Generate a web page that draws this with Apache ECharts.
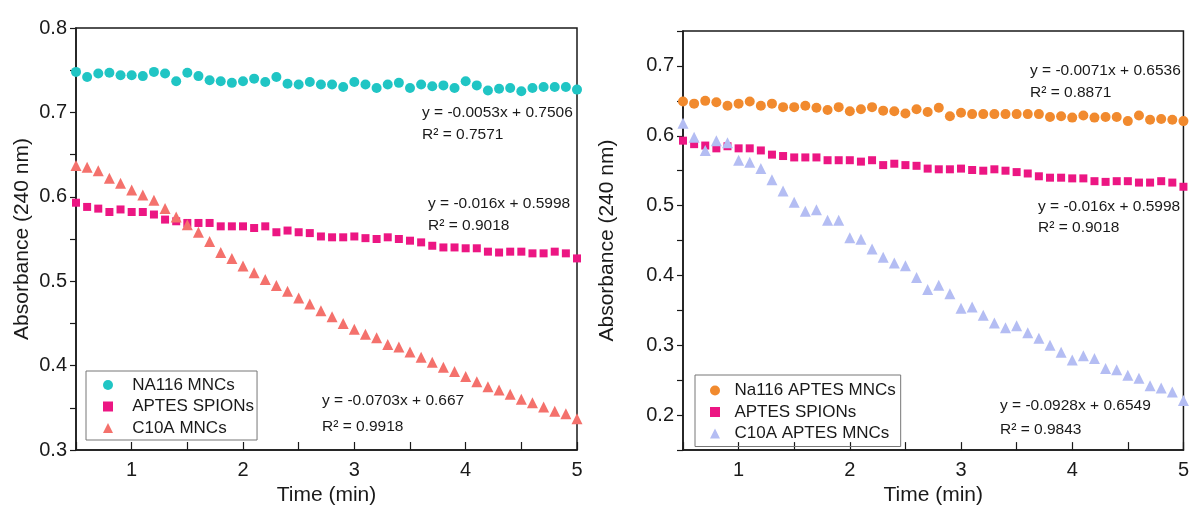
<!DOCTYPE html>
<html>
<head>
<meta charset="utf-8">
<script src="https://cdn.jsdelivr.net/npm/echarts/dist/echarts.min.js"></script>
<style>
  html, body { margin: 0; padding: 0; background: #ffffff; }
  #chart { width: 1192px; height: 511px; }
</style>
</head>
<body>
<div id="chart"></div>
<script>
// ---- Data ----
const time = [0.5,0.6,0.7,0.8,0.9,1.0,1.1,1.2,1.3,1.4,
              1.5,1.6,1.7,1.8,1.9,2.0,2.1,2.2,2.3,2.4,
              2.5,2.6,2.7,2.8,2.9,3.0,3.1,3.2,3.3,3.4,
              3.5,3.6,3.7,3.8,3.9,4.0,4.1,4.2,4.3,4.4,
              4.5,4.6,4.7,4.8,4.9,5.0];

// Left panel
const na116Mncs = [0.748,0.742,0.746,0.747,0.744,0.744,0.743,0.748,0.746,0.737,
                   0.747,0.743,0.738,0.737,0.735,0.737,0.740,0.736,0.742,0.734,
                   0.733,0.736,0.733,0.733,0.730,0.736,0.733,0.729,0.733,0.735,
                   0.729,0.733,0.731,0.732,0.729,0.737,0.732,0.726,0.728,0.729,
                   0.725,0.729,0.730,0.730,0.730,0.727];
const aptesSpions = [0.593,0.588,0.586,0.582,0.585,0.582,0.582,0.579,0.573,0.571,
                     0.569,0.569,0.569,0.565,0.565,0.565,0.563,0.565,0.558,0.560,
                     0.558,0.557,0.553,0.552,0.552,0.553,0.551,0.550,0.552,0.550,
                     0.548,0.546,0.542,0.540,0.540,0.539,0.539,0.535,0.534,0.535,
                     0.535,0.533,0.533,0.535,0.533,0.527];
const c10aMncs = [0.637,0.635,0.631,0.622,0.616,0.608,0.602,0.596,0.586,0.576,
                  0.567,0.558,0.547,0.534,0.527,0.518,0.510,0.502,0.495,0.488,
                  0.480,0.473,0.465,0.458,0.450,0.443,0.437,0.433,0.425,0.422,
                  0.416,0.410,0.404,0.398,0.393,0.387,0.381,0.375,0.371,0.366,
                  0.360,0.356,0.351,0.346,0.343,0.337];

// Right panel
const na116AptesMncs = [0.649,0.646,0.650,0.648,0.643,0.646,0.649,0.643,0.646,0.641,
                        0.641,0.643,0.640,0.637,0.641,0.635,0.638,0.641,0.636,0.635,
                        0.632,0.638,0.634,0.640,0.628,0.633,0.631,0.631,0.631,0.631,
                        0.631,0.631,0.631,0.627,0.628,0.626,0.629,0.626,0.627,0.627,
                        0.621,0.629,0.623,0.624,0.623,0.621];
const c10aAptesMncs = [0.618,0.598,0.579,0.593,0.590,0.565,0.562,0.553,0.537,0.521,
                       0.505,0.492,0.494,0.479,0.479,0.454,0.452,0.438,0.426,0.418,
                       0.414,0.397,0.380,0.386,0.374,0.353,0.355,0.343,0.332,0.325,
                       0.328,0.318,0.310,0.300,0.290,0.279,0.285,0.281,0.267,0.265,
                       0.257,0.253,0.242,0.239,0.233,0.221];

const leftNames = ['NA116 MNCs', 'APTES SPIONs', 'C10A MNCs'];
const rightNames = ['Na116 APTES MNCs', 'APTES SPIONs', 'C10A APTES MNCs'];

const leftFits = [
  ['y = -0.0053x + 0.7506', 'R² = 0.7571'],
  ['y = -0.016x + 0.5998', 'R² = 0.9018'],
  ['y = -0.0703x + 0.667', 'R² = 0.9918']
];
const rightFits = [
  ['y = -0.0071x + 0.6536', 'R² = 0.8871'],
  ['y = -0.016x + 0.5998', 'R² = 0.9018'],
  ['y = -0.0928x + 0.6549', 'R² = 0.9843']
];

const xName = 'Time (min)';
const yName = 'Absorbance (240 nm)';

// ---- Chart ----
const FONT = '"Liberation Sans", Arial, Helvetica, sans-serif';
const INK = '#1a1a1a';
const pts = arr => time.map((t, i) => [t, arr[i]]);

function xAxisCfg(gi, gap) {
  return {
    gridIndex: gi, type: 'value', min: 0.5, max: 5, interval: 0.5,
    name: xName, nameLocation: 'middle', nameGap: gap,
    nameTextStyle: { fontSize: 21, color: INK, fontFamily: FONT },
    axisLine: { show: true, lineStyle: { color: INK, width: 1.5 } },
    axisTick: { show: true, inside: true, length: 8, lineStyle: { color: INK, width: 1.2 } },
    axisLabel: {
      fontSize: 20, color: INK, fontFamily: FONT, margin: 10,
      showMinLabel: true, showMaxLabel: true,
      formatter: v => Math.abs(v - Math.round(v)) < 1e-6 ? String(Math.round(v)) : ''
    },
    splitLine: { show: false }
  };
}
function yAxisCfg(gi, min, max, gap) {
  return {
    gridIndex: gi, type: 'value', min: min, max: max, interval: 0.05,
    name: yName, nameLocation: 'middle', nameGap: gap,
    nameTextStyle: { fontSize: 21, color: INK, fontFamily: FONT },
    axisLine: { show: true, lineStyle: { color: INK, width: 1.5 } },
    axisTick: { show: true, inside: false, length: 6, lineStyle: { color: INK, width: 1.2 } },
    axisLabel: {
      fontSize: 20, color: INK, fontFamily: FONT, margin: 9,
      showMinLabel: true, showMaxLabel: true,
      formatter: v => Math.abs(v * 10 - Math.round(v * 10)) < 1e-6 ? v.toFixed(1) : ''
    },
    splitLine: { show: false }
  };
}
function scatter(name, data, gi, symbol, size, color) {
  return {
    name: name, type: 'scatter', xAxisIndex: gi, yAxisIndex: gi,
    data: pts(data), symbol: symbol, symbolSize: size, clip: true,
    itemStyle: { color: color, opacity: 1 }, silent: true, animation: false
  };
}
function fitTexts(fits, positions) {
  const out = [];
  fits.forEach((f, i) => {
    const p = positions[i];
    out.push({ type: 'text', x: p[0], y: p[1],
      style: { text: f[0], font: '15.5px ' + FONT, fill: INK, verticalAlign: 'middle' } });
    out.push({ type: 'text', x: p[0], y: p[2],
      style: { text: f[1], font: '15.5px ' + FONT, fill: INK, verticalAlign: 'middle' } });
  });
  return out;
}

const chart = echarts.init(document.getElementById('chart'), null, { renderer: 'canvas' });
chart.setOption({
  animation: false,
  backgroundColor: '#ffffff',
  grid: [
    { left: 76, right: 615, top: 28, bottom: 61, show: true, borderColor: INK, borderWidth: 1.5, containLabel: false },
    { left: 683, right: 6, top: 31, bottom: 57, show: true, borderColor: INK, borderWidth: 1.5, containLabel: false }
  ],
  xAxis: [ xAxisCfg(0, 34), xAxisCfg(1, 30) ],
  yAxis: [ yAxisCfg(0, 0.3, 0.8, 43), yAxisCfg(1, 0.15, 0.75, 65) ],
  legend: [
    {
      data: leftNames, orient: 'vertical', left: 86, top: 371,
      itemWidth: 10, itemHeight: 10, itemGap: 4.5,
      padding: [5.5, 3, 3.5, 17], borderColor: '#777', borderWidth: 1,
      selectedMode: false,
      formatter: n => '   ' + n,
      textStyle: { fontSize: 17, color: INK, fontFamily: FONT }
    },
    {
      data: rightNames, orient: 'vertical', left: 695, top: 375,
      itemWidth: 10, itemHeight: 10, itemGap: 4.5,
      padding: [7, 5, 4.5, 15], borderColor: '#777', borderWidth: 1,
      selectedMode: false,
      formatter: n => '  ' + n,
      textStyle: { fontSize: 17, color: INK, fontFamily: FONT }
    }
  ],
  series: [
    scatter(leftNames[0], na116Mncs, 0, 'circle', 10, '#20C5C4'),
    scatter(leftNames[1], aptesSpions, 0, 'rect', 8, '#EC1683'),
    scatter(leftNames[2], c10aMncs, 0, 'triangle', 11, '#F4716C'),
    scatter(rightNames[0], na116AptesMncs, 1, 'circle', 10, '#F18A2E'),
    scatter(rightNames[1], aptesSpions, 1, 'rect', 8, '#EC1683'),
    scatter(rightNames[2], c10aAptesMncs, 1, 'triangle', 11, '#B4BDF3')
  ],
  graphic: [
    ...fitTexts(leftFits, [[422, 113, 135], [428, 204, 226], [322, 401, 427]]),
    ...fitTexts(rightFits, [[1030, 71, 93], [1038, 207, 228], [1000, 406, 430]])
  ]
});
</script>
</body>
</html>
